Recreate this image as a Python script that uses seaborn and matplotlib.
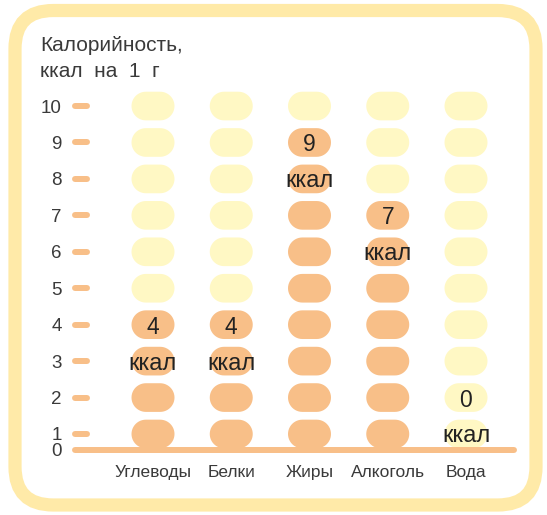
import numpy as np
import pandas as pd
import matplotlib
matplotlib.use('Agg')
import matplotlib.pyplot as plt
from matplotlib.path import Path
from matplotlib.patches import FancyBboxPatch
import seaborn as sns

# --------------------------
# Data
# --------------------------
categories = ['Углеводы', 'Белки', 'Жиры', 'Алкоголь', 'Вода']
kcal_per_g = [4, 4, 9, 7, 0]
levels = list(range(1, 11))
ytick_labels = [str(v) for v in range(0, 11)]
title_text = 'Калорийность,\nккал  на  1  г'

ORANGE = '#f8bf88'
PALE = '#fff8c4'
FRAME = '#ffeaa8'
TEXT = '#222222'
GREY = '#3a3a3a'

sns.set_style('white')
plt.rcParams['font.family'] = ['Liberation Sans', 'DejaVu Sans']

# one row per pill: filled up to the value
rows = []
for cat, val in zip(categories, kcal_per_g):
    for lv in levels:
        rows.append({'category': cat, 'level': lv,
                     'state': 'filled' if lv <= val else 'empty'})
cells = pd.DataFrame(rows)

# pill shaped marker (stadium, width:height = 3:2)
t1 = np.linspace(-np.pi / 2, np.pi / 2, 25)
t2 = np.linspace(np.pi / 2, 3 * np.pi / 2, 25)
verts = np.concatenate([
    np.column_stack([0.5 + np.cos(t1), np.sin(t1)]),
    np.column_stack([-0.5 + np.cos(t2), np.sin(t2)]),
])
verts = np.vstack([verts, verts[:1]])
pill = Path(verts, closed=True)

W, H = 547, 515
fig = plt.figure(figsize=(W / 100, H / 100), dpi=100)

# --------------------------
# Frame
# --------------------------
frame = FancyBboxPatch((15 / W, 1 - 505 / H), 521 / W, 494.5 / H,
                       boxstyle='round,pad=0,rounding_size=0.07',
                       transform=fig.transFigure, fill=False,
                       edgecolor=FRAME, linewidth=9.5, mutation_aspect=W / H)
fig.patches.append(frame)

# --------------------------
# Axes placement (pixels -> data)
# --------------------------
x0_px, dx_px = 153, 78.25      # column 0 centre, column spacing
y1_px, dy_px = 434, 36.44      # level 1 centre, level spacing
ax_l, ax_r, ax_t, ax_b = 66, 535, 88, 458
ax = fig.add_axes([ax_l / W, 1 - ax_b / H, (ax_r - ax_l) / W, (ax_b - ax_t) / H])
ax.set_ylim(1 + (y1_px - ax_b) / dy_px, 1 + (y1_px - ax_t) / dy_px)
base_y = 1 + (y1_px - 450) / dy_px

def px_to_x(px):
    return (px - x0_px) / dx_px

sns.scatterplot(data=cells, x='category', y='level', hue='state',
                palette={'filled': ORANGE, 'empty': PALE},
                marker=pill, s=(43 * 0.72) ** 2, linewidth=0,
                legend=False, ax=ax, zorder=2)
ax.set_xlim((ax_l - x0_px) / dx_px, (ax_r - x0_px) / dx_px)

# baseline
ax.plot([px_to_x(75), px_to_x(514)], [base_y, base_y], color=ORANGE,
        lw=4.3, solid_capstyle='round', zorder=3)
# tick dashes
for lv in levels:
    ax.plot([px_to_x(75), px_to_x(87)], [lv, lv], color=ORANGE,
            lw=4.3, solid_capstyle='round', zorder=3)

# value labels
for i, val in enumerate(kcal_per_g):
    top = max(val, 2)
    ax.text(i, top, str(val), ha='center', va='center_baseline',
            fontsize=16.5, color=TEXT, zorder=4)
    ax.text(i, top - 1, 'ккал', ha='center', va='center_baseline',
            fontsize=17, color=TEXT, zorder=4)

ax.set_yticks([base_y] + levels, ytick_labels)
ax.set_xticks(range(len(categories)), categories)
ax.tick_params(axis='y', length=0, pad=3, labelsize=13.5, labelcolor=GREY)
ax.tick_params(axis='x', length=0, pad=5, labelsize=12.5, labelcolor=GREY)
ax.set_xlabel('')
ax.set_ylabel('')
for s in ax.spines.values():
    s.set_visible(False)
ax.patch.set_alpha(0)

fig.text(40 / W, 1 - 36 / H, title_text, ha='left', va='top',
         fontsize=15, color=GREY, linespacing=1.45)

fig.savefig('out.png', dpi=100)
